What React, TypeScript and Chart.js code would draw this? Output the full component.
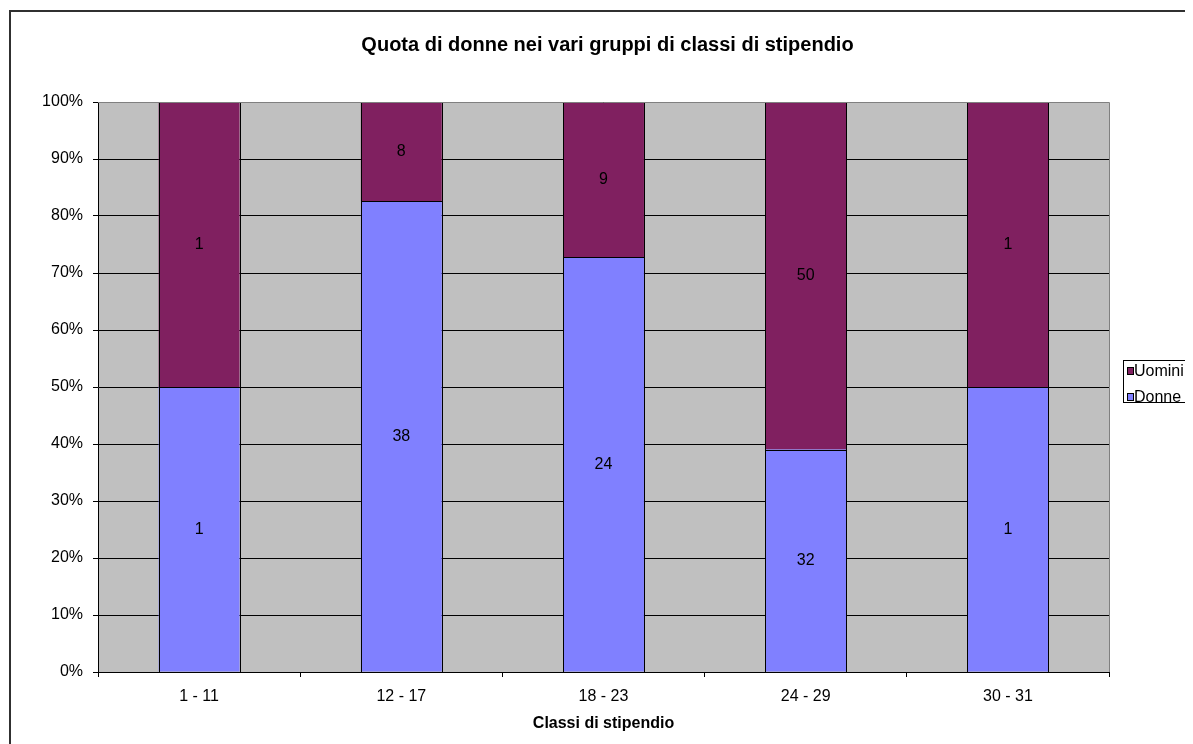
import React, { useEffect, useRef } from "react";
import { Chart, registerables } from "chart.js";

Chart.register(...registerables);

const categories = ["1 - 11", "12 - 17", "18 - 23", "24 - 29", "30 - 31"];
const donne = [1, 38, 24, 32, 1];
const uomini = [1, 8, 9, 50, 1];
const yTicks = [0, 10, 20, 30, 40, 50, 60, 70, 80, 90, 100];

const TITLE = "Quota di donne nei vari gruppi di classi di stipendio";
const X_TITLE = "Classi di stipendio";
const FONT = "'Liberation Sans', Arial, sans-serif";
const C_DONNE = "#8080FF";
const C_UOMINI = "#802060";

const totals = categories.map((_, i) => donne[i] + uomini[i]);
const donnePct = donne.map((v, i) => (v / totals[i]) * 100);
const uominiPct = uomini.map((v, i) => (v / totals[i]) * 100);

const decorPlugin = {
  id: "decor",
  beforeDraw(chart: any) {
    const { ctx, chartArea: a, width, height } = chart;
    ctx.save();
    ctx.fillStyle = "#ffffff";
    ctx.fillRect(0, 0, width, height);
    ctx.fillStyle = "#C0C0C0";
    ctx.fillRect(a.left, a.top, a.right - a.left, a.bottom - a.top);
    ctx.restore();
  },
  afterDatasetsDraw(chart: any) {
    const { ctx } = chart;
    const counts = [donne, uomini];
    ctx.save();
    ctx.strokeStyle = "#000";
    ctx.lineWidth = 1;
    chart.data.datasets.forEach((_: any, di: number) => {
      const meta = chart.getDatasetMeta(di);
      meta.data.forEach((el: any) => {
        const l = Math.round(el.x - el.width / 2) + 0.5;
        const r = Math.round(el.x + el.width / 2) + 0.5;
        const t = Math.round(Math.min(el.y, el.base)) + 0.5;
        const b = Math.round(Math.max(el.y, el.base)) + 0.5;
        ctx.strokeRect(l, t, r - l, b - t);
      });
    });
    ctx.fillStyle = "#000";
    ctx.textAlign = "center";
    ctx.textBaseline = "middle";
    ctx.font = `16px ${FONT}`;
    chart.data.datasets.forEach((_: any, di: number) => {
      const meta = chart.getDatasetMeta(di);
      meta.data.forEach((el: any, i: number) => {
        const y = (el.y + el.base) / 2;
        ctx.fillText(String(counts[di][i]), el.x, y);
      });
    });
    ctx.restore();
  },
  afterDraw(chart: any) {
    const { ctx, chartArea: a } = chart;
    ctx.save();
    ctx.strokeStyle = "#303030";
    ctx.lineWidth = 2;
    ctx.strokeRect(2, 3, 1300, 1000);
    ctx.strokeStyle = "#808080";
    ctx.lineWidth = 1;
    ctx.beginPath();
    ctx.moveTo(a.left, Math.round(a.top) + 0.5);
    ctx.lineTo(Math.round(a.right) + 0.5, Math.round(a.top) + 0.5);
    ctx.lineTo(Math.round(a.right) + 0.5, a.bottom);
    ctx.stroke();
    ctx.fillStyle = "#000";
    ctx.textAlign = "center";
    ctx.textBaseline = "middle";
    ctx.font = `bold 20px ${FONT}`;
    ctx.fillText(TITLE, 599.5, 37);
    ctx.font = `bold 16px ${FONT}`;
    ctx.fillText(X_TITLE, (a.left + a.right) / 2, 716);
    // legend
    ctx.fillStyle = "#fff";
    ctx.fillRect(1115.5, 352.5, 200, 42);
    ctx.strokeStyle = "#000";
    ctx.strokeRect(1115.5, 352.5, 200, 42);
    const items = [
      { label: "Uomini", color: C_UOMINI, y: 363 },
      { label: "Donne", color: C_DONNE, y: 389 },
    ];
    ctx.textAlign = "left";
    ctx.font = `16px ${FONT}`;
    for (const it of items) {
      ctx.fillStyle = it.color;
      ctx.fillRect(1119.5, it.y - 3.5, 6, 7);
      ctx.strokeStyle = "#000";
      ctx.strokeRect(1119.5, it.y - 3.5, 6, 7);
      ctx.fillStyle = "#000";
      ctx.fillText(it.label, 1126, it.y + 1);
    }
    ctx.restore();
  },
};

export default function App() {
  const ref = useRef<HTMLCanvasElement>(null);
  useEffect(() => {
    document.documentElement.style.overflow = "hidden";
    document.body.style.overflow = "hidden";
    const chart = new Chart(ref.current!, {
      type: "bar",
      data: {
        labels: categories,
        datasets: [
          {
            label: "Donne",
            data: donnePct,
            backgroundColor: C_DONNE,
            borderWidth: 0,
            categoryPercentage: 1,
            barPercentage: 0.4,
          },
          {
            label: "Uomini",
            data: uominiPct,
            backgroundColor: C_UOMINI,
            borderWidth: 0,
            categoryPercentage: 1,
            barPercentage: 0.4,
          },
        ],
      },
      options: {
        responsive: false,
        animation: false,
        devicePixelRatio: 1,
        layout: { padding: { left: 0, top: 94, right: 84, bottom: 0 } },
        plugins: { legend: { display: false }, title: { display: false }, tooltip: { enabled: false } },
        scales: {
          x: {
            stacked: true,
            offset: true,
            afterFit: (s: any) => {
              s.height = 72;
            },
            grid: {
              offset: true,
              drawOnChartArea: false,
              drawTicks: true,
              tickLength: 5,
              color: "#000",
            },
            border: { display: true, color: "#000" },
            ticks: { color: "#000", font: { family: FONT, size: 16 }, padding: 10, maxRotation: 0 },
          },
          y: {
            stacked: true,
            min: 0,
            max: 100,
            afterFit: (s: any) => {
              s.width = 90;
            },
            afterBuildTicks: (s: any) => {
              s.ticks = yTicks.map((v) => ({ value: v }));
            },
            grid: { color: "#000", tickLength: 5, drawTicks: true },
            border: { display: true, color: "#000" },
            ticks: {
              color: "#000",
              font: { family: FONT, size: 16 },
              padding: 10,
              callback: (v: any) => v + "%",
            },
          },
        },
      },
      plugins: [decorPlugin],
    });
    return () => chart.destroy();
  }, []);
  return <canvas ref={ref} width={1185} height={736} style={{ display: "block" }} />;
}
